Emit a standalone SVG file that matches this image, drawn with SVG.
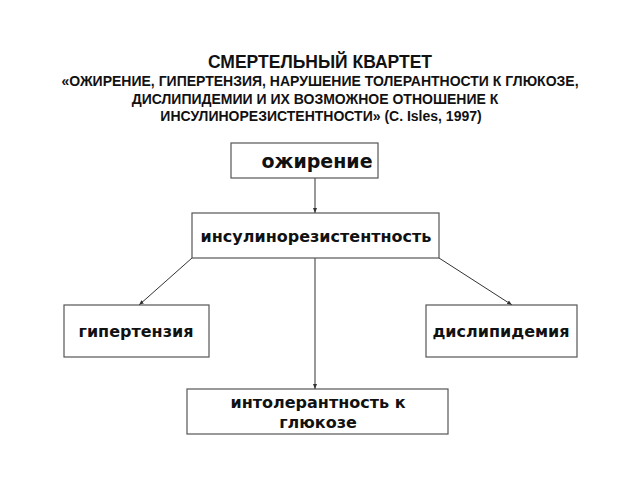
<svg xmlns="http://www.w3.org/2000/svg" width="640" height="480" viewBox="0 0 640 480">
<defs>
<marker id="ah" viewBox="0 0 10 10" refX="10" refY="5" markerWidth="5" markerHeight="5" orient="auto">
<path d="M0,1 L10,5 L0,9 Z" fill="#333"/>
</marker>
<style>
.box{fill:#fff;stroke:#555;stroke-width:1.2}
.t{font-family:"Liberation Sans",Arial,sans-serif;font-weight:bold;fill:#111;text-anchor:middle}
.n{font-family:"DejaVu Sans","Noto Sans",sans-serif;font-weight:bold;fill:#111;text-anchor:middle}
.c{stroke:#333;stroke-width:1;fill:none;marker-end:url(#ah)}
</style>
</defs>
<rect width="640" height="480" fill="#fff"/>
<g id="title">
<text class="t" x="320" y="68" font-size="17.5">СМЕРТЕЛЬНЫЙ КВАРТЕТ</text>
<text class="t" x="320" y="86" font-size="14">«ОЖИРЕНИЕ, ГИПЕРТЕНЗИЯ, НАРУШЕНИЕ ТОЛЕРАНТНОСТИ К ГЛЮКОЗЕ,</text>
<text class="t" x="315" y="103.5" font-size="14">ДИСЛИПИДЕМИИ И ИХ ВОЗМОЖНОЕ ОТНОШЕНИЕ К</text>
<text class="t" x="321" y="121" font-size="14">ИНСУЛИНОРЕЗИСТЕНТНОСТИ» (C. Isles, 1997)</text>
</g>
<g id="connectors">
<line class="c" x1="315" y1="178" x2="315" y2="213"/>
<line class="c" x1="315" y1="258" x2="315" y2="389"/>
<line class="c" x1="192" y1="258" x2="139" y2="305"/>
<line class="c" x1="439" y1="258" x2="512" y2="305"/>
</g>
<g id="obesity">
<rect class="box" x="231" y="143" width="147" height="35"/>
<text class="n" x="317" y="168" font-size="19">ожирение</text>
</g>
<g id="insulin">
<rect class="box" x="192" y="213" width="247" height="45"/>
<text class="n" x="316" y="242" font-size="16">инсулинорезистентность</text>
</g>
<g id="hypertension">
<rect class="box" x="64" y="305" width="145" height="52"/>
<text class="n" x="136" y="337" font-size="16">гипертензия</text>
</g>
<g id="dyslipidemia">
<rect class="box" x="426" y="305" width="151" height="52"/>
<text class="n" x="501" y="337" font-size="16">дислипидемия</text>
</g>
<g id="intolerance">
<rect class="box" x="187" y="389" width="261" height="45"/>
<text class="n" x="318" y="408" font-size="16">интолерантность к</text>
<text class="n" x="318" y="428" font-size="16">глюкозе</text>
</g>
</svg>
